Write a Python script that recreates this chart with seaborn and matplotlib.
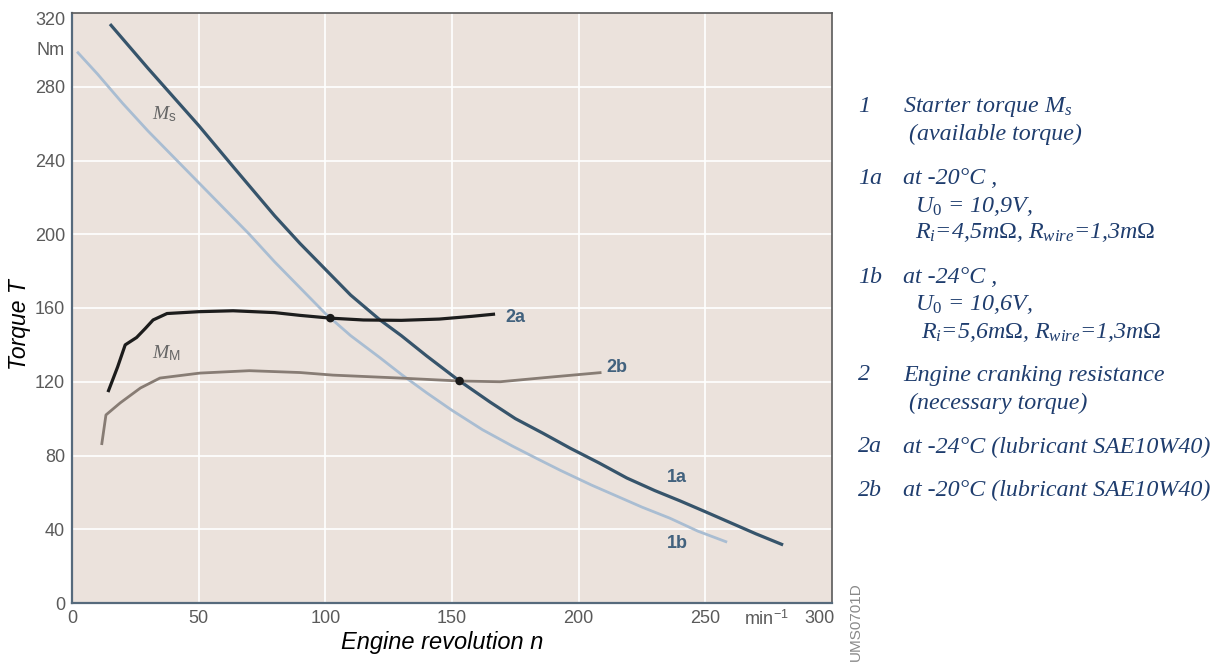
import matplotlib
matplotlib.use("Agg")
import matplotlib.pyplot as plt
import seaborn as sns
import pandas as pd

# ---------------- data ----------------
n_1a = [15, 30, 50, 64, 80, 90, 100, 110, 121.6, 130, 140, 152.4, 165, 175, 186,
        196.6, 208, 219, 230, 240, 250, 260, 270, 280.7]
T_1a = [314, 290, 259, 236, 210, 195, 181, 167, 153.5, 145, 134, 121, 109, 100, 92,
        84, 76, 67.8, 61, 55.4, 49.5, 43.5, 37.5, 31.5]

n_1b = [2, 10, 20, 30, 40, 50, 60, 70, 80, 90, 100, 110, 121.6, 130, 140, 150, 162,
        174, 184, 192.7, 205, 215, 225, 236, 247, 258.6]
T_1b = [299, 287, 271, 256, 242, 228, 214, 200, 185, 171, 157, 145, 133, 124, 114,
        104.5, 94, 85, 78, 72, 64, 58, 52, 46, 39, 33]

n_2a = [14.2, 18, 21, 25.5, 29, 32, 37.5, 50, 63.6, 80, 90, 102, 115, 130, 145, 158, 167]
T_2a = [114.4, 128, 140, 144, 149, 153.5, 157, 158, 158.5, 157.5, 156, 154.5, 153.5,
        153.3, 154, 155.5, 156.7]

n_2b = [11.7, 13.4, 19, 27, 34.7, 50.5, 70, 90, 103, 129.5, 153, 169, 188.7, 209]
T_2b = [85.7, 102, 108.5, 116.6, 122, 124.7, 126, 125, 123.6, 122, 120.4, 120, 122.5, 125]

dot_n = [102, 153]
dot_T = [154.5, 120.4]

curve_names = ["1a", "1b", "2a", "2b"]
x_ticks = [0, 50, 100, 150, 200, 250]
y_ticks = [0, 40, 80, 120, 160, 200, 240, 280]

legend_lines = [
    ("1", "Starter torque $M_s$", 107),
    ("", " (available torque)", 134),
    ("1a", "at -20°C ,", 178),
    ("", "  $U_0$ = 10,9V,", 207),
    ("", "  $R_i$=4,5m$\\Omega$, $R_{wire}$=1,3m$\\Omega$", 233),
    ("1b", "at -24°C ,", 277),
    ("", "  $U_0$ = 10,6V,", 305),
    ("", "   $R_i$=5,6m$\\Omega$, $R_{wire}$=1,3m$\\Omega$", 332),
    ("2", "Engine cranking resistance", 375),
    ("", " (necessary torque)", 403),
    ("2a", "at -24°C (lubricant SAE10W40)", 447),
    ("2b", "at -20°C (lubricant SAE10W40)", 490),
]

# ---------------- styling ----------------
sns.set_theme(style="white")
plt.rcParams["font.family"] = ["Liberation Sans", "DejaVu Sans"]
plt.rcParams["mathtext.fontset"] = "custom"
plt.rcParams["mathtext.it"] = "Liberation Serif:italic"
plt.rcParams["mathtext.rm"] = "Liberation Serif"
plt.rcParams["mathtext.sf"] = "Liberation Sans"

colors = {"1a": "#36546b", "1b": "#a9bdd2", "2a": "#1c1c1c", "2b": "#877c74"}
widths = {"1a": 2.3, "1b": 2.0, "2a": 2.3, "2b": 2.0}

df = pd.concat([
    pd.DataFrame({"n": n_1a, "T": T_1a, "curve": "1a"}),
    pd.DataFrame({"n": n_1b, "T": T_1b, "curve": "1b"}),
    pd.DataFrame({"n": n_2a, "T": T_2a, "curve": "2a"}),
    pd.DataFrame({"n": n_2b, "T": T_2b, "curve": "2b"}),
], ignore_index=True)

W, H = 1224, 664
fig = plt.figure(figsize=(W / 100, H / 100), dpi=100)
ax = fig.add_axes([72 / W, 1 - 603 / H, 760 / W, 590 / H])
ax.set_facecolor("#ebe2dc")

for c in curve_names:
    sns.lineplot(data=df[df["curve"] == c], x="n", y="T", color=colors[c],
                 linewidth=widths[c], sort=False, estimator=None, ax=ax,
                 legend=False, solid_capstyle="butt", solid_joinstyle="round")

sns.scatterplot(x=dot_n, y=dot_T, color="#1a1a1a", s=38, edgecolor="none",
                ax=ax, zorder=5)

ax.set_xlim(0, 300)
ax.set_ylim(0, 320)

# ticks: real grid ticks plus extra unit labels
xt = x_ticks + [274, 295]
xl = [str(v) for v in x_ticks] + ["min$^{\\mathsf{-1}}$", "300"]
yt = y_ticks + [301, 317]
yl = [str(v) for v in y_ticks] + ["Nm", "320"]
ax.set_xticks(xt)
ax.set_xticklabels(xl)
ax.set_yticks(yt)
ax.set_yticklabels(yl)
ax.tick_params(axis="both", length=0, labelsize=13, labelcolor="#5a5a5a")
ax.tick_params(axis="x", pad=5)
ax.tick_params(axis="y", pad=5)
ax.get_xticklabels()[0].set_x(2)

ax.grid(True, color="white", linewidth=1.2)
for i, gl in enumerate(ax.xaxis.get_gridlines()):
    if xt[i] not in x_ticks:
        gl.set_visible(False)
for i, gl in enumerate(ax.yaxis.get_gridlines()):
    if yt[i] not in y_ticks:
        gl.set_visible(False)

for s in ["left", "bottom"]:
    ax.spines[s].set_color("#566a7c")
    ax.spines[s].set_linewidth(1.6)
for s in ["top", "right"]:
    ax.spines[s].set_color("#5a5a5a")
    ax.spines[s].set_linewidth(1.2)

ax.set_xlabel("")
ax.set_ylabel("")

# in-chart labels
lab_kw = dict(fontsize=13, fontweight="bold", color="#42627e", va="center", ha="left")
ax.text(171, 154.6, "2a", **lab_kw)
ax.text(211, 128, "2b", **lab_kw)
ax.text(235, 67.8, "1a", **lab_kw)
ax.text(235, 32.5, "1b", **lab_kw)
ax.text(31.5, 265, "$M_{\\mathsf{s}}$", fontsize=14, color="#666666", va="center")
ax.text(31.5, 135.6, "$M_{\\mathsf{M}}$", fontsize=14, color="#666666", va="center")

# axis titles
fig.text(20 / W, 1 - 325 / H, "Torque T", rotation=90, fontsize=16.5,
         fontstyle="italic", va="center", ha="center", color="black")
fig.text(442 / W, 1 - 643 / H, "Engine revolution n", fontsize=17,
         fontstyle="italic", va="center", ha="center", color="black",
         bbox=dict(facecolor="white", edgecolor="none", pad=6))
fig.text(856 / W, 1 - 622 / H, "UMS0701D", rotation=90, fontsize=11,
         color="#8a8a8a", va="center", ha="center")

# right-hand explanation
txt_kw = dict(family=["Liberation Serif", "DejaVu Serif"], fontstyle="italic",
              fontsize=17.3, color="#1f3d6e", va="center", ha="left")
for num, text, y in legend_lines:
    if num:
        fig.text(858 / W, 1 - y / H, num, **txt_kw)
    fig.text(903 / W, 1 - y / H, text, **txt_kw)

fig.savefig("out.png", dpi=100, facecolor="white")
